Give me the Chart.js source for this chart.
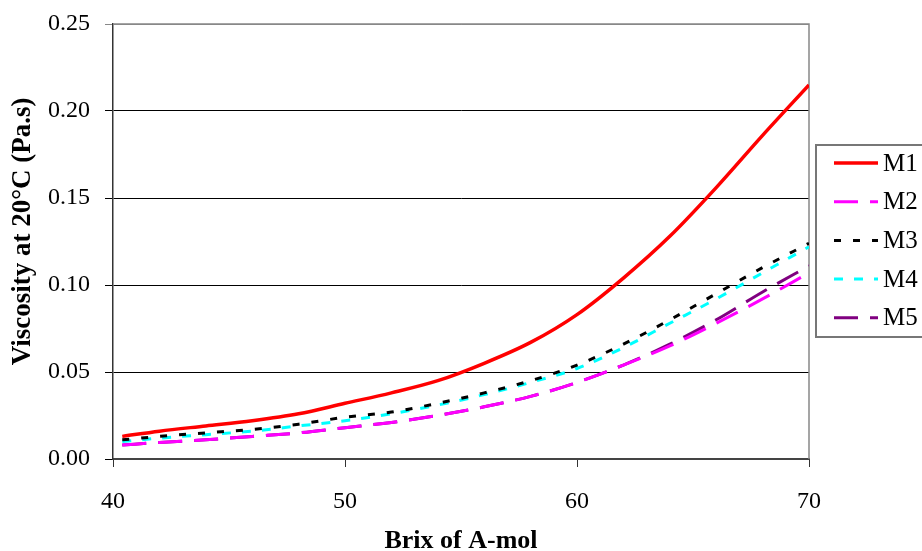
<!DOCTYPE html>
<html>
<head>
<meta charset="utf-8">
<script src="https://cdn.jsdelivr.net/npm/chart.js@4.4.1/dist/chart.umd.min.js"></script>
<style>
    html, body { margin: 0; padding: 0; background: #fff; }
    #wrap { width: 922px; height: 551px; position: relative; }
</style>
</head>
<body>
<div id="wrap"><canvas id="chart" width="922" height="551"></canvas></div>
<script>
// Brix values (x) shared by all series
const brix = [40.4, 42, 44, 46, 48, 50, 52, 54, 56, 58, 60, 62, 64, 66, 68, 70];

const m1 = [0.013, 0.016, 0.019, 0.022, 0.026, 0.032, 0.038, 0.045, 0.055, 0.067, 0.083, 0.104, 0.128, 0.156, 0.186, 0.215];
const m2 = [0.008, 0.0095, 0.011, 0.013, 0.015, 0.018, 0.021, 0.025, 0.030, 0.036, 0.044, 0.054, 0.065, 0.078, 0.092, 0.107];
const m3 = [0.011, 0.013, 0.015, 0.017, 0.020, 0.024, 0.027, 0.032, 0.038, 0.045, 0.054, 0.066, 0.080, 0.095, 0.110, 0.124];
const m4 = [0.010, 0.012, 0.014, 0.016, 0.019, 0.022, 0.026, 0.031, 0.037, 0.044, 0.052, 0.064, 0.078, 0.092, 0.107, 0.122];
const m5 = [0.008, 0.0095, 0.011, 0.013, 0.015, 0.018, 0.021, 0.025, 0.030, 0.036, 0.044, 0.054, 0.066, 0.080, 0.096, 0.111];

const seriesNames = ['M1', 'M2', 'M3', 'M4', 'M5'];
const xTicks = [40, 50, 60, 70];
const yTicks = [0, 0.05, 0.10, 0.15, 0.20, 0.25];

const FONT = '"Liberation Serif", "Times New Roman", serif';

const styles = [
    { color: '#ff0000', width: 3.5, dash: [] },
    { color: '#ff00ff', width: 3, dash: [24, 12] },
    { color: '#000000', width: 3, dash: [7, 12] },
    { color: '#00ffff', width: 3, dash: [9, 11] },
    { color: '#800080', width: 3, dash: [24, 12] }
];

function toPoints(arr) {
    return brix.map((x, i) => ({ x: x, y: arr[i] }));
}

const datasets = [m1, m2, m3, m4, m5].map((arr, i) => ({
    label: seriesNames[i],
    data: toPoints(arr),
    borderColor: styles[i].color,
    borderWidth: styles[i].width,
    borderDash: styles[i].dash,
    pointRadius: 0,
    fill: false,
    tension: 0.4,
    cubicInterpolationMode: 'monotone'
}));

// gray frame on top/right of the plot and the boxed legend at the right edge
const frameAndLegend = {
    id: 'frameAndLegend',
    beforeDatasetsDraw(chart) {
        const { ctx, chartArea } = chart;
        ctx.save();
        ctx.strokeStyle = '#888888';
        ctx.lineWidth = 1.5;
        ctx.beginPath();
        ctx.moveTo(chartArea.left, chartArea.top);
        ctx.lineTo(chartArea.right, chartArea.top);
        ctx.lineTo(chartArea.right, chartArea.bottom);
        ctx.stroke();
        ctx.restore();
    },
    afterDraw(chart) {
        const ctx = chart.ctx;
        ctx.save();
        ctx.strokeStyle = '#777777';
        ctx.lineWidth = 2;
        ctx.strokeRect(816, 145, 110, 192);
        ctx.font = '25px ' + FONT;
        ctx.textBaseline = 'middle';
        ctx.fillStyle = '#000';
        chart.data.datasets.forEach((ds, i) => {
            const y = 163 + i * 38.7;
            ctx.beginPath();
            ctx.strokeStyle = ds.borderColor;
            ctx.lineWidth = ds.borderWidth;
            ctx.setLineDash(ds.borderDash || []);
            ctx.moveTo(834, y);
            ctx.lineTo(878, y);
            ctx.stroke();
            ctx.setLineDash([]);
            ctx.fillText(ds.label, 883, y + 1);
        });
        ctx.restore();
    }
};

new Chart(document.getElementById('chart'), {
    type: 'line',
    data: { datasets: datasets },
    options: {
        responsive: false,
        animation: false,
        layout: { padding: { top: 24, right: 113, left: 0, bottom: 0 } },
        plugins: {
            legend: { display: false },
            tooltip: { enabled: false }
        },
        scales: {
            x: {
                type: 'linear',
                min: 40,
                max: 70,
                afterBuildTicks: (axis) => { axis.ticks = xTicks.map(v => ({ value: v })); },
                afterFit: (axis) => { axis.height = 92; axis.paddingLeft = 0; axis.paddingRight = 0; },
                ticks: {
                    font: { family: FONT, size: 24 },
                    color: '#000',
                    padding: 20,
                    maxRotation: 0
                },
                grid: {
                    drawOnChartArea: false,
                    drawTicks: true,
                    tickLength: 8,
                    color: '#333'
                },
                border: { color: '#444', width: 2 },
                title: {
                    display: true,
                    text: 'Brix of A-mol',
                    font: { family: FONT, size: 26, weight: 'bold' },
                    color: '#000',
                    padding: { top: 18, bottom: -6 }
                }
            },
            y: {
                min: 0,
                max: 0.25,
                afterBuildTicks: (axis) => { axis.ticks = yTicks.map(v => ({ value: v })); },
                afterFit: (axis) => { axis.width = 113; axis.paddingTop = 0; axis.paddingBottom = 0; },
                ticks: {
                    font: { family: FONT, size: 24 },
                    color: '#000',
                    padding: 15,
                    callback: (v) => v.toFixed(2)
                },
                grid: {
                    drawTicks: true,
                    tickLength: 8,
                    color: (c) => (c.tick && c.tick.value === 0.25) ? '#888888' : '#000000',
                    lineWidth: 1
                },
                border: { color: '#333', width: 1.5 },
                title: {
                    display: true,
                    text: '   Viscosity at 20°C (Pa.s)',
                    font: { family: FONT, size: 27, weight: 'bold' },
                    color: '#000',
                    padding: { top: 7, bottom: 0 }
                }
            }
        }
    },
    plugins: [frameAndLegend]
});
</script>
</body>
</html>
